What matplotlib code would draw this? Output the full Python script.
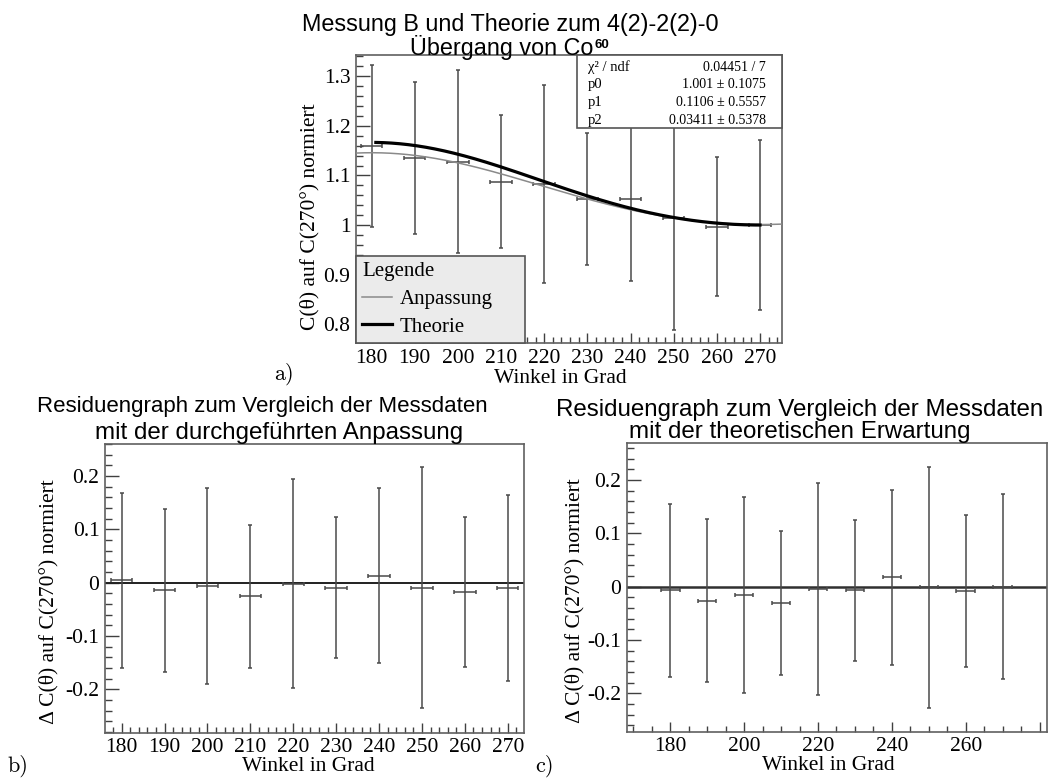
import numpy as np
import matplotlib
matplotlib.use("Agg")
import matplotlib.pyplot as plt
from matplotlib.ticker import MultipleLocator, FuncFormatter
from matplotlib.lines import Line2D
from matplotlib.patches import Rectangle

# ---- measured coincidence ratios C(theta)/C(270deg) ----
angles = [180, 190, 200, 210, 220, 230, 240, 250, 260, 270]
angle_err = [2.5, 2.5, 2.5, 2.5, 2.5, 2.5, 2.5, 2.5, 2.5, 2.5]
ratio = [1.159, 1.135, 1.128, 1.087, 1.083, 1.052, 1.052, 1.015, 0.997, 1.000]
ratio_err = [0.163, 0.153, 0.184, 0.134, 0.199, 0.133, 0.164, 0.226, 0.141, 0.172]

# ---- residuals: data minus fit ----
res_fit = [0.005, -0.014, -0.006, -0.025, -0.002, -0.009, 0.013, -0.009, -0.017, -0.010]
res_fit_err = [0.164, 0.153, 0.184, 0.134, 0.196, 0.132, 0.164, 0.225, 0.141, 0.174]

# ---- residuals: data minus theory ----
res_theo = [-0.007, -0.026, -0.015, -0.031, -0.005, -0.007, 0.018, -0.001, -0.008, 0.000]
res_theo_err = [0.163, 0.153, 0.184, 0.135, 0.199, 0.133, 0.164, 0.226, 0.142, 0.174]

# ---- fit result  W = p0 * (1 + p1 cos^2 + p2 cos^4) ----
fit_names = ["p0", "p1", "p2"]
fit_values = [1.001, 0.1106, 0.03411]
fit_errors = [0.1075, 0.5557, 0.5378]
chi2_text = "0.04451 / 7"

# ---- theory for the 4(2)-2(2)-0 cascade ----
theory_a2 = 1.0 / 8.0
theory_a4 = 1.0 / 24.0


def fit_curve(theta):
    c2 = np.cos(np.radians(theta)) ** 2
    return fit_values[0] * (1 + fit_values[1] * c2 + fit_values[2] * c2 ** 2)


def theory_curve(theta):
    c2 = np.cos(np.radians(theta)) ** 2
    return 1 + theory_a2 * c2 + theory_a4 * c2 ** 2


plt.rcParams["font.family"] = ["Liberation Serif", "DejaVu Serif"]
plt.rcParams["axes.unicode_minus"] = False

W, H = 1051, 781
fig = plt.figure(figsize=(W / 100, H / 100), dpi=100)
fig.patch.set_facecolor("white")

BAR = "#4a4a4a"
TICK_FS = 15.5
LABEL_FS = 15.5
SANS = ["Liberation Sans", "DejaVu Sans"]


def box(l, t, r, b):
    return [l / W, 1 - b / H, (r - l) / W, (b - t) / H]


def style_axes(ax, xmaj, xmin, ymaj, ymin):
    ax.xaxis.set_major_locator(MultipleLocator(xmaj))
    ax.xaxis.set_minor_locator(MultipleLocator(xmin))
    ax.yaxis.set_major_locator(MultipleLocator(ymaj))
    ax.yaxis.set_minor_locator(MultipleLocator(ymin))
    ax.yaxis.set_major_formatter(FuncFormatter(lambda v, p: "%g" % round(v, 3)))
    ax.tick_params(which="both", direction="in", top=False, right=False,
                   colors="#404040", labelcolor="black", labelsize=TICK_FS)
    ax.tick_params(axis="x", which="major", length=7, width=1, pad=4)
    ax.tick_params(axis="x", which="minor", length=4, width=1)
    ax.tick_params(axis="y", which="major", length=10, width=1, pad=4)
    ax.tick_params(axis="y", which="minor", length=5, width=1)
    for s in ax.spines.values():
        s.set_color("#606060")
        s.set_linewidth(1.2)


def errbars(ax, x, y, yerr):
    ax.errorbar(x, y, yerr=yerr, xerr=angle_err, fmt="none", ecolor=BAR,
                elinewidth=1.1, capsize=1.6, capthick=1.1, zorder=3)


# ================= a) data, fit and theory =================
ax = fig.add_axes(box(356, 55, 782, 343))
ax.set_xlim(176.4, 275.1)
ax.set_ylim(0.762, 1.343)
style_axes(ax, 10, 2, 0.1, 0.02)
ax.xaxis.set_major_formatter(FuncFormatter(lambda v, p: "%d" % v))

errbars(ax, angles, ratio, ratio_err)
th_fit = np.linspace(176.4, 275.1, 400)
ax.plot(th_fit, fit_curve(th_fit), color="#8a8a8a", lw=1.1, zorder=4)
th_theo = np.linspace(181, 270, 400)
ax.plot(th_theo, theory_curve(th_theo), color="black", lw=2.3, zorder=4)

handles = [Line2D([], [], color="#8a8a8a", lw=1.1),
           Line2D([], [], color="black", lw=2.3)]
leg = ax.legend(handles, ["Anpassung", "Theorie"], title="Legende",
                loc="lower left", bbox_to_anchor=(0, 0, 0.397, 0.295),
                mode="expand", borderaxespad=0, fontsize=15, title_fontsize=15,
                alignment="left", frameon=True, fancybox=False, framealpha=1,
                facecolor="#ebebeb", edgecolor="#555555", handlelength=1.45,
                handletextpad=0.35, labelspacing=0.4, borderpad=0.3)
leg.get_frame().set_linewidth(1.2)
leg.set_zorder(6)

# fit statistics box
ax.add_patch(Rectangle((0.519, 0.7465), 0.481, 0.2535, transform=ax.transAxes,
                       facecolor="white", edgecolor="#555555", lw=1.2,
                       zorder=6, clip_on=False))
rows_left = ["\u03c7\u00b2 / ndf"] + fit_names
rows_right = [chi2_text] + ["%s \u00b1 %s" % (f"{v:g}", f"{e:g}")
                            for v, e in zip(fit_values, fit_errors)]
row_y = [0.957, 0.896, 0.835, 0.774]
for yl, lt, rt in zip(row_y, rows_left, rows_right):
    ax.text(0.545, yl, lt, transform=ax.transAxes, fontsize=10.5,
            va="center", ha="left", zorder=7)
    ax.text(0.963, yl, rt, transform=ax.transAxes, fontsize=10,
            va="center", ha="right", zorder=7)

ax.set_xlabel("Winkel in Grad", fontsize=LABEL_FS, labelpad=1)
ax.set_ylabel("C(\u03b8) auf C(270\u00b0) normiert", fontsize=LABEL_FS)
ax.yaxis.set_label_coords(-0.085, 0.44)
ax.xaxis.set_label_coords(0.479, -0.09)

# main title (two lines); the isotope mass number is raised after "Co"
TITLE_A_FS = 16.8
line1 = "Messung B und Theorie zum 4(2)-2(2)-0"
line2 = "Übergang von Co"
rend = fig.canvas.get_renderer()
fig.text(510 / W, 1 - 31 / H, line1, ha="center", va="baseline",
         fontsize=TITLE_A_FS, family=SANS)
title_l2 = fig.text(0, 1 - 54.5 / H, line2, ha="left", va="baseline",
                    fontsize=TITLE_A_FS, family=SANS)
title_sup = fig.text(0, 1 - 47.5 / H, "60", ha="left", va="baseline",
                     fontsize=9.5, fontweight="bold", family=SANS)
w_main = title_l2.get_window_extent(rend).width
w_sup = title_sup.get_window_extent(rend).width
x0 = 510 - (w_main + 1 + w_sup) / 2
title_l2.set_x(x0 / W)
title_sup.set_x((x0 + w_main + 1) / W)

# ================= b) residuals to fit =================
axb = fig.add_axes(box(105, 444, 524, 732.7))
axb.set_xlim(176.1, 273.8)
axb.set_ylim(-0.281, 0.26)
style_axes(axb, 10, 2, 0.1, 0.02)
axb.xaxis.set_major_formatter(FuncFormatter(lambda v, p: "%d" % v))
axb.axhline(0, color="#202020", lw=1.4, zorder=2)
errbars(axb, angles, res_fit, res_fit_err)
axb.set_xlabel("Winkel in Grad", fontsize=LABEL_FS, labelpad=1)
axb.set_ylabel("\u0394 C(\u03b8) auf C(270\u00b0) normiert", fontsize=LABEL_FS)
axb.yaxis.set_label_coords(-0.11, 0.455)
axb.xaxis.set_label_coords(0.485, -0.083)
fig.text(262.5 / W, 1 - 412 / H, "Residuengraph zum Vergleich der Messdaten",
         ha="center", va="baseline", fontsize=16.0, family=SANS)
fig.text(279 / W, 1 - 439 / H, "mit der durchgeführten Anpassung",
         ha="center", va="baseline", fontsize=17.4, family=SANS)

# ================= c) residuals to theory =================
axc = fig.add_axes(box(626.7, 443.3, 1047.3, 731.7))
axc.set_xlim(168.2, 282.1)
axc.set_ylim(-0.272, 0.269)
style_axes(axc, 20, 5, 0.1, 0.02)
axc.xaxis.set_major_formatter(FuncFormatter(lambda v, p: "" if v >= 280 else "%d" % v))
axc.axhline(0, color="#303030", lw=1.8, zorder=2)
errbars(axc, angles, res_theo, res_theo_err)
axc.set_xlabel("Winkel in Grad", fontsize=LABEL_FS, labelpad=1)
axc.set_ylabel("\u0394 C(\u03b8) auf C(270\u00b0) normiert", fontsize=LABEL_FS)
axc.yaxis.set_label_coords(-0.10, 0.455)
axc.xaxis.set_label_coords(0.48, -0.083)
fig.text(800 / W, 1 - 438 / H,
         "Residuengraph zum Vergleich der Messdaten\nmit der theoretischen Erwartung",
         ha="center", va="baseline", ma="center", linespacing=0.98,
         fontsize=17.4, family=SANS)

# panel letters
for px, py, s in [(284, 380, "a)"), (18, 772, "b)"), (545, 772, "c)")]:
    fig.text(px / W, 1 - py / H, s, ha="center", va="baseline",
             fontsize=16, family="cmr10")

fig.savefig("out.png", dpi=100, facecolor="white")
